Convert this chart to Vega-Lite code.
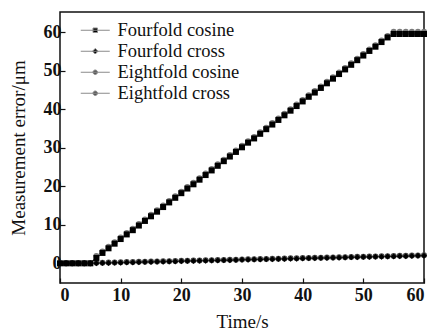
{
  "$schema": "https://vega.github.io/schema/vega-lite/v6.json",
  "width": 364,
  "height": 271,
  "autosize": {"type": "none"},
  "padding": {"left": 60, "top": 12, "right": 12, "bottom": 48},
  "background": "white",
  "config": {
    "font": "Liberation Serif",
    "view": {"stroke": "#111", "strokeWidth": 1.5},
    "axis": {
      "domain": false,
      "grid": false,
      "tickSize": -5,
      "tickColor": "#111",
      "tickWidth": 1.2,
      "labelFont": "Liberation Serif",
      "labelFontSize": 18,
      "labelFontWeight": "bold",
      "labelColor": "#111",
      "titleFont": "Liberation Serif",
      "titleFontSize": 19,
      "titleFontWeight": "normal",
      "titleColor": "#111"
    }
  },
  "data": {"values": [
    {"series":"Eightfold cosine","time":0,"error":0},{"series":"Eightfold cosine","time":1,"error":0},{"series":"Eightfold cosine","time":2,"error":0},{"series":"Eightfold cosine","time":3,"error":0},{"series":"Eightfold cosine","time":4,"error":0},{"series":"Eightfold cosine","time":5,"error":0},
    {"series":"Eightfold cosine","time":6,"error":1.9},{"series":"Eightfold cosine","time":7,"error":3.1},{"series":"Eightfold cosine","time":8,"error":4.3},{"series":"Eightfold cosine","time":9,"error":5.5},{"series":"Eightfold cosine","time":10,"error":6.7},
    {"series":"Eightfold cosine","time":11,"error":7.9},{"series":"Eightfold cosine","time":12,"error":9.0},{"series":"Eightfold cosine","time":13,"error":10.2},{"series":"Eightfold cosine","time":14,"error":11.4},{"series":"Eightfold cosine","time":15,"error":12.6},
    {"series":"Eightfold cosine","time":16,"error":13.8},{"series":"Eightfold cosine","time":17,"error":15.0},{"series":"Eightfold cosine","time":18,"error":16.2},{"series":"Eightfold cosine","time":19,"error":17.4},{"series":"Eightfold cosine","time":20,"error":18.6},
    {"series":"Eightfold cosine","time":21,"error":19.8},{"series":"Eightfold cosine","time":22,"error":20.9},{"series":"Eightfold cosine","time":23,"error":22.1},{"series":"Eightfold cosine","time":24,"error":23.3},{"series":"Eightfold cosine","time":25,"error":24.5},
    {"series":"Eightfold cosine","time":26,"error":25.7},{"series":"Eightfold cosine","time":27,"error":26.9},{"series":"Eightfold cosine","time":28,"error":28.1},{"series":"Eightfold cosine","time":29,"error":29.3},{"series":"Eightfold cosine","time":30,"error":30.5},
    {"series":"Eightfold cosine","time":31,"error":31.7},{"series":"Eightfold cosine","time":32,"error":32.8},{"series":"Eightfold cosine","time":33,"error":34.0},{"series":"Eightfold cosine","time":34,"error":35.2},{"series":"Eightfold cosine","time":35,"error":36.4},
    {"series":"Eightfold cosine","time":36,"error":37.6},{"series":"Eightfold cosine","time":37,"error":38.8},{"series":"Eightfold cosine","time":38,"error":40.0},{"series":"Eightfold cosine","time":39,"error":41.2},{"series":"Eightfold cosine","time":40,"error":42.4},
    {"series":"Eightfold cosine","time":41,"error":43.6},{"series":"Eightfold cosine","time":42,"error":44.7},{"series":"Eightfold cosine","time":43,"error":45.9},{"series":"Eightfold cosine","time":44,"error":47.1},{"series":"Eightfold cosine","time":45,"error":48.3},
    {"series":"Eightfold cosine","time":46,"error":49.5},{"series":"Eightfold cosine","time":47,"error":50.7},{"series":"Eightfold cosine","time":48,"error":51.9},{"series":"Eightfold cosine","time":49,"error":53.1},{"series":"Eightfold cosine","time":50,"error":54.3},
    {"series":"Eightfold cosine","time":51,"error":55.5},{"series":"Eightfold cosine","time":52,"error":56.6},{"series":"Eightfold cosine","time":53,"error":57.8},{"series":"Eightfold cosine","time":54,"error":59.0},{"series":"Eightfold cosine","time":55,"error":60.1},
    {"series":"Eightfold cosine","time":56,"error":60.1},{"series":"Eightfold cosine","time":57,"error":60.1},{"series":"Eightfold cosine","time":58,"error":60.1},{"series":"Eightfold cosine","time":59,"error":60.1},{"series":"Eightfold cosine","time":60,"error":60.1},

    {"series":"Eightfold cross","time":0,"error":0},{"series":"Eightfold cross","time":1,"error":0},{"series":"Eightfold cross","time":2,"error":0},{"series":"Eightfold cross","time":3,"error":0},{"series":"Eightfold cross","time":4,"error":0},{"series":"Eightfold cross","time":5,"error":0},
    {"series":"Eightfold cross","time":6,"error":0.14},{"series":"Eightfold cross","time":7,"error":0.17},{"series":"Eightfold cross","time":8,"error":0.21},{"series":"Eightfold cross","time":9,"error":0.24},{"series":"Eightfold cross","time":10,"error":0.28},
    {"series":"Eightfold cross","time":11,"error":0.32},{"series":"Eightfold cross","time":12,"error":0.35},{"series":"Eightfold cross","time":13,"error":0.39},{"series":"Eightfold cross","time":14,"error":0.42},{"series":"Eightfold cross","time":15,"error":0.46},
    {"series":"Eightfold cross","time":16,"error":0.50},{"series":"Eightfold cross","time":17,"error":0.53},{"series":"Eightfold cross","time":18,"error":0.57},{"series":"Eightfold cross","time":19,"error":0.60},{"series":"Eightfold cross","time":20,"error":0.64},
    {"series":"Eightfold cross","time":21,"error":0.68},{"series":"Eightfold cross","time":22,"error":0.71},{"series":"Eightfold cross","time":23,"error":0.75},{"series":"Eightfold cross","time":24,"error":0.78},{"series":"Eightfold cross","time":25,"error":0.82},
    {"series":"Eightfold cross","time":26,"error":0.86},{"series":"Eightfold cross","time":27,"error":0.89},{"series":"Eightfold cross","time":28,"error":0.93},{"series":"Eightfold cross","time":29,"error":0.96},{"series":"Eightfold cross","time":30,"error":1.00},
    {"series":"Eightfold cross","time":31,"error":1.04},{"series":"Eightfold cross","time":32,"error":1.07},{"series":"Eightfold cross","time":33,"error":1.11},{"series":"Eightfold cross","time":34,"error":1.14},{"series":"Eightfold cross","time":35,"error":1.18},
    {"series":"Eightfold cross","time":36,"error":1.22},{"series":"Eightfold cross","time":37,"error":1.25},{"series":"Eightfold cross","time":38,"error":1.29},{"series":"Eightfold cross","time":39,"error":1.32},{"series":"Eightfold cross","time":40,"error":1.36},
    {"series":"Eightfold cross","time":41,"error":1.40},{"series":"Eightfold cross","time":42,"error":1.43},{"series":"Eightfold cross","time":43,"error":1.47},{"series":"Eightfold cross","time":44,"error":1.50},{"series":"Eightfold cross","time":45,"error":1.54},
    {"series":"Eightfold cross","time":46,"error":1.58},{"series":"Eightfold cross","time":47,"error":1.61},{"series":"Eightfold cross","time":48,"error":1.65},{"series":"Eightfold cross","time":49,"error":1.68},{"series":"Eightfold cross","time":50,"error":1.72},
    {"series":"Eightfold cross","time":51,"error":1.76},{"series":"Eightfold cross","time":52,"error":1.79},{"series":"Eightfold cross","time":53,"error":1.83},{"series":"Eightfold cross","time":54,"error":1.86},{"series":"Eightfold cross","time":55,"error":1.90},
    {"series":"Eightfold cross","time":56,"error":1.94},{"series":"Eightfold cross","time":57,"error":1.97},{"series":"Eightfold cross","time":58,"error":2.01},{"series":"Eightfold cross","time":59,"error":2.04},{"series":"Eightfold cross","time":60,"error":2.08},

    {"series":"Fourfold cosine","time":0,"error":0},{"series":"Fourfold cosine","time":1,"error":0},{"series":"Fourfold cosine","time":2,"error":0},{"series":"Fourfold cosine","time":3,"error":0},{"series":"Fourfold cosine","time":4,"error":0},{"series":"Fourfold cosine","time":5,"error":0},
    {"series":"Fourfold cosine","time":6,"error":1.4},{"series":"Fourfold cosine","time":7,"error":2.7},{"series":"Fourfold cosine","time":8,"error":3.9},{"series":"Fourfold cosine","time":9,"error":5.1},{"series":"Fourfold cosine","time":10,"error":6.3},
    {"series":"Fourfold cosine","time":11,"error":7.5},{"series":"Fourfold cosine","time":12,"error":8.6},{"series":"Fourfold cosine","time":13,"error":9.8},{"series":"Fourfold cosine","time":14,"error":11.0},{"series":"Fourfold cosine","time":15,"error":12.2},
    {"series":"Fourfold cosine","time":16,"error":13.4},{"series":"Fourfold cosine","time":17,"error":14.6},{"series":"Fourfold cosine","time":18,"error":15.8},{"series":"Fourfold cosine","time":19,"error":17.0},{"series":"Fourfold cosine","time":20,"error":18.2},
    {"series":"Fourfold cosine","time":21,"error":19.4},{"series":"Fourfold cosine","time":22,"error":20.5},{"series":"Fourfold cosine","time":23,"error":21.7},{"series":"Fourfold cosine","time":24,"error":22.9},{"series":"Fourfold cosine","time":25,"error":24.1},
    {"series":"Fourfold cosine","time":26,"error":25.3},{"series":"Fourfold cosine","time":27,"error":26.5},{"series":"Fourfold cosine","time":28,"error":27.7},{"series":"Fourfold cosine","time":29,"error":28.9},{"series":"Fourfold cosine","time":30,"error":30.1},
    {"series":"Fourfold cosine","time":31,"error":31.3},{"series":"Fourfold cosine","time":32,"error":32.4},{"series":"Fourfold cosine","time":33,"error":33.6},{"series":"Fourfold cosine","time":34,"error":34.8},{"series":"Fourfold cosine","time":35,"error":36.0},
    {"series":"Fourfold cosine","time":36,"error":37.2},{"series":"Fourfold cosine","time":37,"error":38.4},{"series":"Fourfold cosine","time":38,"error":39.6},{"series":"Fourfold cosine","time":39,"error":40.8},{"series":"Fourfold cosine","time":40,"error":42.0},
    {"series":"Fourfold cosine","time":41,"error":43.2},{"series":"Fourfold cosine","time":42,"error":44.3},{"series":"Fourfold cosine","time":43,"error":45.5},{"series":"Fourfold cosine","time":44,"error":46.7},{"series":"Fourfold cosine","time":45,"error":47.9},
    {"series":"Fourfold cosine","time":46,"error":49.1},{"series":"Fourfold cosine","time":47,"error":50.3},{"series":"Fourfold cosine","time":48,"error":51.5},{"series":"Fourfold cosine","time":49,"error":52.7},{"series":"Fourfold cosine","time":50,"error":53.9},
    {"series":"Fourfold cosine","time":51,"error":55.1},{"series":"Fourfold cosine","time":52,"error":56.2},{"series":"Fourfold cosine","time":53,"error":57.4},{"series":"Fourfold cosine","time":54,"error":58.6},{"series":"Fourfold cosine","time":55,"error":59.5},
    {"series":"Fourfold cosine","time":56,"error":59.5},{"series":"Fourfold cosine","time":57,"error":59.5},{"series":"Fourfold cosine","time":58,"error":59.5},{"series":"Fourfold cosine","time":59,"error":59.5},{"series":"Fourfold cosine","time":60,"error":59.5},

    {"series":"Fourfold cross","time":0,"error":0},{"series":"Fourfold cross","time":1,"error":0},{"series":"Fourfold cross","time":2,"error":0},{"series":"Fourfold cross","time":3,"error":0},{"series":"Fourfold cross","time":4,"error":0},{"series":"Fourfold cross","time":5,"error":0},
    {"series":"Fourfold cross","time":6,"error":0.04},{"series":"Fourfold cross","time":7,"error":0.07},{"series":"Fourfold cross","time":8,"error":0.11},{"series":"Fourfold cross","time":9,"error":0.14},{"series":"Fourfold cross","time":10,"error":0.18},
    {"series":"Fourfold cross","time":11,"error":0.22},{"series":"Fourfold cross","time":12,"error":0.25},{"series":"Fourfold cross","time":13,"error":0.29},{"series":"Fourfold cross","time":14,"error":0.32},{"series":"Fourfold cross","time":15,"error":0.36},
    {"series":"Fourfold cross","time":16,"error":0.40},{"series":"Fourfold cross","time":17,"error":0.43},{"series":"Fourfold cross","time":18,"error":0.47},{"series":"Fourfold cross","time":19,"error":0.50},{"series":"Fourfold cross","time":20,"error":0.54},
    {"series":"Fourfold cross","time":21,"error":0.58},{"series":"Fourfold cross","time":22,"error":0.61},{"series":"Fourfold cross","time":23,"error":0.65},{"series":"Fourfold cross","time":24,"error":0.68},{"series":"Fourfold cross","time":25,"error":0.72},
    {"series":"Fourfold cross","time":26,"error":0.76},{"series":"Fourfold cross","time":27,"error":0.79},{"series":"Fourfold cross","time":28,"error":0.83},{"series":"Fourfold cross","time":29,"error":0.86},{"series":"Fourfold cross","time":30,"error":0.90},
    {"series":"Fourfold cross","time":31,"error":0.94},{"series":"Fourfold cross","time":32,"error":0.97},{"series":"Fourfold cross","time":33,"error":1.01},{"series":"Fourfold cross","time":34,"error":1.04},{"series":"Fourfold cross","time":35,"error":1.08},
    {"series":"Fourfold cross","time":36,"error":1.12},{"series":"Fourfold cross","time":37,"error":1.15},{"series":"Fourfold cross","time":38,"error":1.19},{"series":"Fourfold cross","time":39,"error":1.22},{"series":"Fourfold cross","time":40,"error":1.26},
    {"series":"Fourfold cross","time":41,"error":1.30},{"series":"Fourfold cross","time":42,"error":1.33},{"series":"Fourfold cross","time":43,"error":1.37},{"series":"Fourfold cross","time":44,"error":1.40},{"series":"Fourfold cross","time":45,"error":1.44},
    {"series":"Fourfold cross","time":46,"error":1.48},{"series":"Fourfold cross","time":47,"error":1.51},{"series":"Fourfold cross","time":48,"error":1.55},{"series":"Fourfold cross","time":49,"error":1.58},{"series":"Fourfold cross","time":50,"error":1.62},
    {"series":"Fourfold cross","time":51,"error":1.66},{"series":"Fourfold cross","time":52,"error":1.69},{"series":"Fourfold cross","time":53,"error":1.73},{"series":"Fourfold cross","time":54,"error":1.76},{"series":"Fourfold cross","time":55,"error":1.80},
    {"series":"Fourfold cross","time":56,"error":1.84},{"series":"Fourfold cross","time":57,"error":1.87},{"series":"Fourfold cross","time":58,"error":1.91},{"series":"Fourfold cross","time":59,"error":1.94},{"series":"Fourfold cross","time":60,"error":1.98}
  ]},
  "encoding": {
    "x": {"field": "time", "type": "quantitative", "title": "Time/s",
          "scale": {"domain": [0, 60], "nice": false},
          "axis": {"values": [0, 10, 20, 30, 40, 50, 60], "labelPadding": 8, "titlePadding": 8,
                   "labelFont": "Liberation Serif", "labelFontWeight": "bold", "labelFontSize": 18}},
    "y": {"field": "error", "type": "quantitative", "title": "Measurement error/μm",
          "scale": {"domain": [-5.1, 65.2], "nice": false, "zero": false},
          "axis": {"values": [0, 10, 20, 30, 40, 50, 60], "labelPadding": 4, "titlePadding": 15,
                   "labelFont": "Liberation Serif", "labelFontWeight": "bold", "labelFontSize": 18}}
  },
  "layer": [
    {
      "mark": {"type": "line", "strokeWidth": 1},
      "encoding": {
        "color": {"field": "series", "type": "nominal", "legend": null,
                  "scale": {"domain": ["Fourfold cosine", "Fourfold cross", "Eightfold cosine", "Eightfold cross"],
                            "range": ["#222222", "#222222", "#888888", "#555555"]}}
      }
    },
    {
      "mark": {"type": "point", "filled": true, "opacity": 1, "size": 36},
      "encoding": {
        "color": {"field": "series", "type": "nominal", "legend": null,
                  "scale": {"domain": ["Fourfold cosine", "Fourfold cross", "Eightfold cosine", "Eightfold cross"],
                            "range": ["#000000", "#000000", "#7a7a7a", "#4a4a4a"]}},
        "shape": {"field": "series", "type": "nominal", "legend": null,
                  "scale": {"domain": ["Fourfold cosine", "Fourfold cross", "Eightfold cosine", "Eightfold cross"],
                            "range": ["square", "diamond", "circle", "circle"]}}
      }
    },
    {
      "transform": [{"filter": "datum.time < -100"}],
      "mark": {"type": "point", "filled": true, "opacity": 1},
      "encoding": {
        "color": {"field": "series", "type": "nominal",
                  "scale": {"domain": ["Fourfold cosine", "Fourfold cross", "Eightfold cosine", "Eightfold cross"],
                            "range": ["#000000", "#000000", "#555555", "#555555"]},
                  "legend": {"title": null, "orient": "none", "legendX": 26, "legendY": 9,
                             "symbolSize": 100, "symbolOpacity": 1, "labelOffset": 13, "labelFont": "Liberation Serif",
                             "labelFontSize": 18.5, "labelColor": "#111", "rowPadding": 2, "padding": 0,
                             "encode": {"symbols": {"update": {"stroke": {"value": "#8a8a8a"}, "strokeWidth": {"value": 1}}}}}},
        "shape": {"field": "series", "type": "nominal",
                  "scale": {"domain": ["Fourfold cosine", "Fourfold cross", "Eightfold cosine", "Eightfold cross"],
                            "range": ["M-2.9,0H2.9M-0.45,-0.45H0.45V0.45H-0.45Z",
                                      "M-2.9,0H2.9M0,-0.55L0.55,0L0,0.55L-0.55,0Z",
                                      "M-2.9,0H2.9M-0.45,0A0.45,0.45,0,1,0,0.45,0A0.45,0.45,0,1,0,-0.45,0Z",
                                      "M-2.9,0H2.9M-0.45,0A0.45,0.45,0,1,0,0.45,0A0.45,0.45,0,1,0,-0.45,0Z"]},
                  "legend": {"title": null, "orient": "none", "legendX": 26, "legendY": 9,
                             "symbolSize": 100, "symbolOpacity": 1, "labelOffset": 13, "labelFont": "Liberation Serif",
                             "labelFontSize": 18.5, "labelColor": "#111", "rowPadding": 2, "padding": 0,
                             "encode": {"symbols": {"update": {"stroke": {"value": "#8a8a8a"}, "strokeWidth": {"value": 1}}}}}}
      }
    }
  ],
  "resolve": {"scale": {"color": "independent", "shape": "independent"}}
}
